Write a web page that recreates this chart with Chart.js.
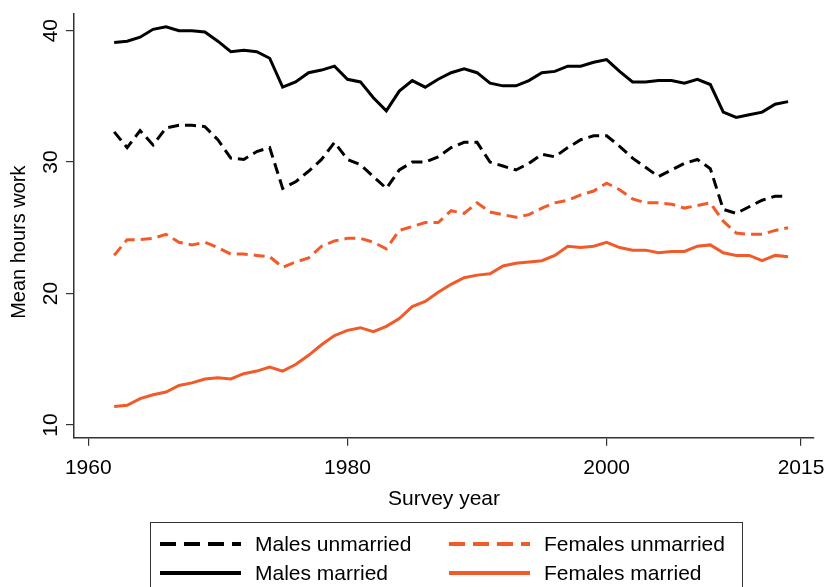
<!DOCTYPE html>
<html>
<head>
<meta charset="utf-8">
<script src="https://cdn.jsdelivr.net/npm/chart.js@4"></script>
<style>
  html, body { margin:0; padding:0; background:#fff; overflow:hidden; }
  #wrap { position:relative; width:828px; height:587px; font-family:'Liberation Sans', Arial, sans-serif; }
  #chart { position:absolute; left:0; top:0; }
  #legend { position:absolute; left:150px; top:522px; width:593px; height:80px; border:1px solid #333; box-sizing:border-box; }
  .item { position:absolute; height:30px; display:flex; align-items:center; }
  .item span { font-size:21px; color:#000; white-space:nowrap; }
  .item svg { display:block; }
</style>
</head>
<body>
<div id="wrap">
  <canvas id="chart" width="828" height="587"></canvas>
  <div id="legend"></div>
</div>
<script>
const $ = id => document.getElementById(id);

const years = [1962,1963,1964,1965,1966,1967,1968,1969,1970,1971,1972,1973,1974,1975,1976,1977,1978,1979,1980,1981,
  1982,1983,1984,1985,1986,1987,1988,1989,1990,1991,1992,1993,1994,1995,1996,1997,1998,1999,2000,2001,
  2002,2003,2004,2005,2006,2007,2008,2009,2010,2011,2012,2013,2014];

const malesUnmarried = [32.3,31.1,32.4,31.3,32.6,32.8,32.8,32.7,31.7,30.3,30.2,30.8,31.1,28.0,28.5,29.3,30.2,31.5,30.2,29.8,
  28.9,28.0,29.4,30.0,30.0,30.4,31.1,31.5,31.5,30.0,29.7,29.4,29.9,30.6,30.4,31.1,31.7,32.0,32.0,31.2,
  30.3,29.6,28.9,29.4,29.9,30.2,29.5,26.4,26.1,26.6,27.1,27.4,27.4];
const malesMarried = [39.1,39.2,39.5,40.1,40.3,40.0,40.0,39.9,39.2,38.4,38.5,38.4,37.9,35.7,36.1,36.8,37.0,37.3,36.3,36.1,
  34.9,33.9,35.4,36.2,35.7,36.3,36.8,37.1,36.8,36.0,35.8,35.8,36.2,36.8,36.9,37.3,37.3,37.6,37.8,36.9,
  36.1,36.1,36.2,36.2,36.0,36.3,35.9,33.8,33.4,33.6,33.8,34.4,34.6];
const femalesUnmarried = [22.9,24.1,24.1,24.2,24.5,23.9,23.7,23.9,23.5,23.0,23.0,22.9,22.8,22.0,22.4,22.7,23.6,24.0,24.2,24.2,
  23.9,23.4,24.8,25.1,25.4,25.4,26.3,26.1,26.9,26.2,26.0,25.8,26.0,26.5,26.9,27.1,27.5,27.8,28.4,27.9,
  27.2,26.9,26.9,26.8,26.5,26.7,26.9,25.5,24.6,24.5,24.5,24.8,25.0];
const femalesMarried = [11.4,11.5,12.0,12.3,12.5,13.0,13.2,13.5,13.6,13.5,13.9,14.1,14.4,14.1,14.6,15.3,16.1,16.8,17.2,17.4,
  17.1,17.5,18.1,19.0,19.4,20.1,20.7,21.2,21.4,21.5,22.1,22.3,22.4,22.5,22.9,23.6,23.5,23.6,23.9,23.5,
  23.3,23.3,23.1,23.2,23.2,23.6,23.7,23.1,22.9,22.9,22.5,22.9,22.8];

const seriesLabels = ['Males unmarried','Males married','Females unmarried','Females married'];
const seriesValues = [malesUnmarried, malesMarried, femalesUnmarried, femalesMarried];
const seriesColors = ['#000000','#000000','#f15a29','#f15a29'];
const seriesDashed = [true, false, true, false];

const xTicks = [1960,1980,2000,2015];
const yTicks = [10,20,30,40];
const xTitle = 'Survey year';
// trailing spaces nudge the centred, rotated title down toward where the original sits
const yTitle = 'Mean hours work      ';

const font = {family:"'Liberation Sans', Arial, sans-serif", size:21};
const axisColor = '#333';

const datasets = seriesLabels.map((label, i) => ({
  label,
  data: years.map((yr, j) => ({x: yr, y: seriesValues[i][j]})),
  borderColor: seriesColors[i],
  borderWidth: 3,
  borderDash: seriesDashed[i] ? [11, 6] : [],
  pointRadius: 0,
  fill: false,
  tension: 0
}));

new Chart($('chart'), {
  type: 'line',
  data: {datasets},
  options: {
    responsive: false,
    animation: false,
    layout: {padding: {top: 13.3, right: 14, left: 0, bottom: 70}},
    plugins: {legend: {display: false}, tooltip: {enabled: false}},
    scales: {
      x: {
        type: 'linear', min: 1958.9, max: 2016.0,
        afterBuildTicks: s => { s.ticks = xTicks.map(v => ({value: v})); },
        afterFit: s => { s.height = 79.3; s.paddingLeft = 0; s.paddingRight = 0; },
        grid: {display: true, drawOnChartArea: false, drawTicks: true, tickLength: 8, color: axisColor, lineWidth: 1.2},
        border: {display: true, color: axisColor, width: 1.5},
        ticks: {font, color: '#000', padding: 10, maxRotation: 0, autoSkip: false, callback: v => String(v)},
        title: {display: true, text: xTitle, font, color: '#000', padding: {top: 0, bottom: 5}}
      },
      y: {
        type: 'linear', min: 9.03, max: 41.32,
        afterBuildTicks: s => { s.ticks = yTicks.map(v => ({value: v})); },
        afterFit: s => { s.width = 74; s.paddingTop = 0; s.paddingBottom = 0; },
        grid: {display: true, drawOnChartArea: false, drawTicks: true, tickLength: 8, color: axisColor, lineWidth: 1.2},
        border: {display: true, color: axisColor, width: 1.5},
        ticks: {font, color: '#000', padding: 3, minRotation: 90, maxRotation: 90, crossAlign: 'center', autoSkip: false, callback: v => String(v)},
        title: {display: true, text: yTitle, font: {...font, size: 20}, color: '#000', padding: {top: 7, bottom: 0}}
      }
    }
  }
});

// legend in a box below the plot, two columns
const legendOrder = [0, 2, 1, 3];
const legendPos = [[9, 6], [298, 6], [9, 35], [298, 35]];
legendOrder.forEach((si, k) => {
  const [left, top] = legendPos[k];
  const el = document.createElement('div');
  el.className = 'item';
  el.style.left = left + 'px';
  el.style.top = top + 'px';
  const dash = seriesDashed[si] ? 'stroke-dasharray="16 8"' : '';
  el.innerHTML = `<svg width="81" height="6"><line x1="0" y1="3" x2="81" y2="3" stroke="${seriesColors[si]}" stroke-width="4" ${dash}/></svg>` +
    `<span style="margin-left:14px">${seriesLabels[si]}</span>`;
  $('legend').appendChild(el);
});
</script>
</body>
</html>
